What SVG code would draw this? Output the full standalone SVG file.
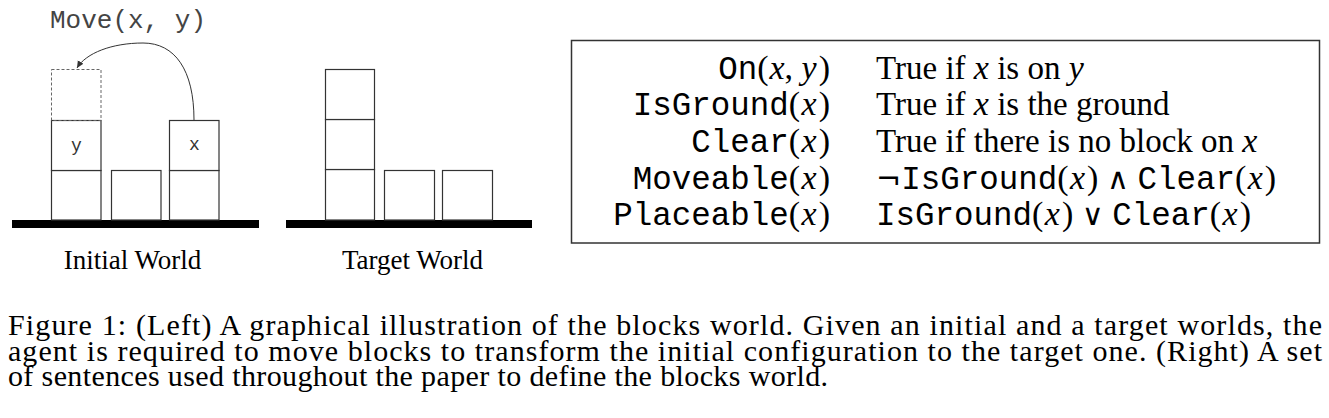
<svg xmlns="http://www.w3.org/2000/svg" width="1329" height="418" viewBox="0 0 1329 418">
<style>
.blk{fill:#fff;stroke:#333;stroke-width:1.2}
.dash{fill:none;stroke:#666;stroke-width:1;stroke-dasharray:3,2}
.ground{fill:#000}
.mono{font-family:"Liberation Mono","DejaVu Sans Mono",monospace;font-size:32.5px}
.serif{font-family:"Liberation Serif","Times New Roman",serif}
.m{font-family:"Liberation Serif","Times New Roman",serif;font-size:34px}
.it{font-family:"Liberation Serif","Times New Roman",serif;font-style:italic}
.sym{font-family:"DejaVu Sans","Liberation Serif",sans-serif;font-size:30px}
.lbl{font-family:"Liberation Serif","Times New Roman",serif;font-size:27px;fill:#000}
.cap{font-family:"Liberation Serif","Times New Roman",serif;font-size:30px;fill:#000}
.row{font-size:33px;fill:#000}
</style>
<defs>
<marker id="ah" markerWidth="8" markerHeight="8" refX="7" refY="4" orient="auto" markerUnits="userSpaceOnUse">
<path d="M0,0.8 L7,4 L0,7.2 Z" fill="#333"/>
</marker>
</defs>

<g id="initial-world">
<rect class="ground" x="12" y="220" width="247" height="8"/>
<rect class="blk" x="51.5" y="170.5" width="49.5" height="49.5"/>
<rect class="blk" x="51.5" y="120.5" width="49.5" height="50"/>
<rect class="dash" x="51.5" y="69.5" width="49.5" height="51"/>
<rect class="blk" x="111.5" y="170.5" width="49.5" height="49.5"/>
<rect class="blk" x="169.5" y="170.5" width="49.5" height="49.5"/>
<rect class="blk" x="169.5" y="120.5" width="49.5" height="50"/>
<text font-family="Liberation Mono, monospace" x="76.5" y="151" font-size="18" text-anchor="middle" fill="#333">y</text>
<text font-family="Liberation Mono, monospace" x="194.5" y="150" font-size="18" text-anchor="middle" fill="#333">x</text>
<text font-family="Liberation Mono, monospace" x="50" y="28" font-size="26" fill="#444">Move(x, y)</text>
<text class="lbl" x="132.5" y="269" text-anchor="middle">Initial World</text>
</g>

<g id="connectors">
<path d="M194,120 C194,70 175,43 143,43 C112,43 86,53 77,68" fill="none" stroke="#333" stroke-width="1" marker-end="url(#ah)"/>
</g>

<g id="target-world">
<rect class="ground" x="286" y="220" width="246" height="8"/>
<rect class="blk" x="325.5" y="169.5" width="49" height="50.5"/>
<rect class="blk" x="325.5" y="119.5" width="49" height="50"/>
<rect class="blk" x="325.5" y="69.5" width="49" height="50"/>
<rect class="blk" x="384.5" y="170.5" width="50" height="49.5"/>
<rect class="blk" x="442.5" y="170.5" width="50" height="49.5"/>
<text class="lbl" x="412.5" y="269" text-anchor="middle">Target World</text>
</g>

<g id="definitions">
<rect x="571.5" y="40.5" width="748" height="202.5" fill="none" stroke="#333" stroke-width="1.5"/>
<text class="row" x="830" y="78.5" text-anchor="end"><tspan class="mono">On</tspan><tspan class="m">(</tspan><tspan class="it m" dx="1">x</tspan><tspan class="m">, </tspan><tspan class="it m">y</tspan><tspan class="m" dx="2">)</tspan></text>
<text class="row" x="830" y="115" text-anchor="end"><tspan class="mono">IsGround</tspan><tspan class="m">(</tspan><tspan class="it m" dx="1.5">x</tspan><tspan class="m" dx="2">)</tspan></text>
<text class="row" x="830" y="152" text-anchor="end"><tspan class="mono">Clear</tspan><tspan class="m">(</tspan><tspan class="it m" dx="1.5">x</tspan><tspan class="m" dx="2">)</tspan></text>
<text class="row" x="830" y="188.5" text-anchor="end"><tspan class="mono">Moveable</tspan><tspan class="m">(</tspan><tspan class="it m" dx="1.5">x</tspan><tspan class="m" dx="2">)</tspan></text>
<text class="row" x="830" y="225" text-anchor="end"><tspan class="mono">Placeable</tspan><tspan class="m">(</tspan><tspan class="it m" dx="1.5">x</tspan><tspan class="m" dx="2">)</tspan></text>

<text class="row serif" x="876" y="78.5">True if <tspan class="it" font-size="34">x</tspan> is on <tspan class="it" font-size="34">y</tspan></text>
<text class="row serif" x="876" y="115">True if <tspan class="it" font-size="34">x</tspan> is the ground</text>
<text class="row serif" x="876" y="152">True if there is no block on <tspan class="it" font-size="34">x</tspan></text>
<text class="row" x="876" y="188.5"><tspan class="sym">¬</tspan><tspan class="mono">IsGround</tspan><tspan class="m">(</tspan><tspan class="it m" dx="1.5">x</tspan><tspan class="m" dx="2">) </tspan><tspan class="sym">∧</tspan><tspan class="m"> </tspan><tspan class="mono">Clear</tspan><tspan class="m">(</tspan><tspan class="it m" dx="1.5">x</tspan><tspan class="m" dx="2">)</tspan></text>
<text class="row" x="876" y="225"><tspan class="mono">IsGround</tspan><tspan class="m">(</tspan><tspan class="it m" dx="1.5">x</tspan><tspan class="m" dx="2">) </tspan><tspan class="sym">∨</tspan><tspan class="m"> </tspan><tspan class="mono">Clear</tspan><tspan class="m">(</tspan><tspan class="it m" dx="1.5">x</tspan><tspan class="m" dx="2">)</tspan></text>
</g>

<g id="caption">
<text class="cap" x="8" y="335" textLength="1314" lengthAdjust="spacing">Figure 1: (Left) A graphical illustration of the blocks world. Given an initial and a target worlds, the</text>
<text class="cap" x="8" y="361" textLength="1314" lengthAdjust="spacing">agent is required to move blocks to transform the initial configuration to the target one. (Right) A set</text>
<text class="cap" x="8" y="386" textLength="820" lengthAdjust="spacing">of sentences used throughout the paper to define the blocks world.</text>
</g>
</svg>
